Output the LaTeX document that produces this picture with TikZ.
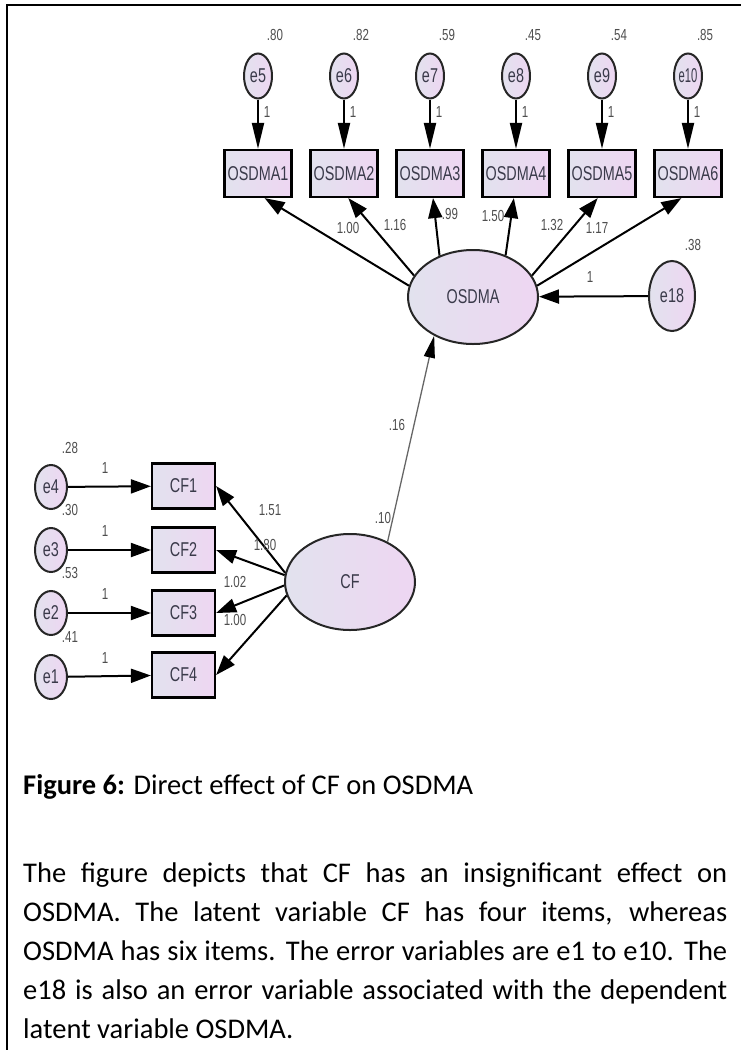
\documentclass[tikz,border=0pt]{standalone}
\usepackage{fontspec}
\usepackage{graphicx}
\setmainfont{Carlito}
\newfontfamily\semfont[FakeStretch=0.72]{Liberation Sans}
\usetikzlibrary{shapes.geometric,arrows.meta}
\definecolor{semleft}{RGB}{226,226,238}
\definecolor{semright}{RGB}{238,214,242}
\definecolor{semtext}{RGB}{58,58,74}
\definecolor{numgray}{RGB}{78,78,78}

\begin{document}
\begin{tikzpicture}[x=1pt,y=-1pt,
    obs/.style={draw,line width=2.2pt,rectangle,minimum width=67pt,minimum height=47pt,inner sep=0pt,
        left color=semleft,right color=semright,text=semtext,font=\semfont\fontsize{20}{20}\selectfont},
    lat/.style={draw=black!85,line width=2pt,ellipse,inner sep=0pt,
        left color=semleft,right color=semright,text=semtext,font=\semfont\fontsize{20}{20}\selectfont},
    err/.style={lat,minimum width=28pt,minimum height=45pt},
    num/.style={inner sep=1pt,text=numgray,font=\semfont\fontsize{16}{16}\selectfont},
    load/.style={line width=2pt,-{Triangle[length=20pt,width=14pt]}},
    fix/.style={line width=2pt,-{Triangle[length=26pt,width=12pt]}},
    reg/.style={line width=1.3pt,draw=black!60,-{Triangle[length=22pt,width=11pt,color=black]}},
    txt/.style={anchor=base west,inner sep=0pt,font=\fontsize{28.5}{39}\selectfont}]
    \useasboundingbox (0,0) rectangle (741,1050);
    \draw[line width=2pt] (741,5) -- (7,5) -- (7,1050);

    % OSDMA items and their errors
    \node[err] (e5) at (258,76) {e5};
    \node[err] (e6) at (344,76) {e6};
    \node[err] (e7) at (430,76) {e7};
    \node[err] (e8) at (516,76) {e8};
    \node[err] (e9) at (602,76) {e9};
    \node[err] (e10) at (688,76) {\scalebox{0.78}[1]{e10}};
    \node[num] (v5) at (275,35) {.80};
    \node[num] (v6) at (361,35) {.82};
    \node[num] (v7) at (447,35) {.59};
    \node[num] (v8) at (533,35) {.45};
    \node[num] (v9) at (619,35) {.54};
    \node[num] (v10) at (705,35) {.85};
    \node[obs] (osdma1) at (258,173.5) {OSDMA1};
    \node[obs] (osdma2) at (344,173.5) {OSDMA2};
    \node[obs] (osdma3) at (430,173.5) {OSDMA3};
    \node[obs] (osdma4) at (516,173.5) {OSDMA4};
    \node[obs] (osdma5) at (602,173.5) {OSDMA5};
    \node[obs] (osdma6) at (688,173.5) {OSDMA6};
    \draw[fix] (e5) -- (osdma1);
    \draw[fix] (e6) -- (osdma2);
    \draw[fix] (e7) -- (osdma3);
    \draw[fix] (e8) -- (osdma4);
    \draw[fix] (e9) -- (osdma5);
    \draw[fix] (e10) -- (osdma6);
    \node[num] (f5) at (267,112) {1};
    \node[num] (f6) at (353,112) {1};
    \node[num] (f7) at (439,112) {1};
    \node[num] (f8) at (525,112) {1};
    \node[num] (f9) at (611,112) {1};
    \node[num] (f10) at (697,112) {1};

    % latent OSDMA
    \node[lat,minimum width=130pt,minimum height=94pt] (osdma) at (473,297) {OSDMA};
    \node[err,minimum width=46pt,minimum height=70pt] (e18) at (672,296) {e18};
    \node[num] (v18) at (693,245) {.38};
    \draw[load] (e18) -- (osdma);
    \node[num] (f18) at (590,277) {1};
    \draw[load] (osdma.170) -- (osdma1.-75);
    \draw[load] (osdma.160) -- (osdma2.-80);
    \draw[load] (osdma.129) -- (osdma3.-83);
    \draw[load] (osdma.52) -- (osdma4.-95);
    \draw[load] (osdma.20) -- (osdma5.-100);
    \draw[load] (osdma.10) -- (osdma6.-105);
    \node[num] (w1) at (348,228) {1.00};
    \node[num] (w2) at (395,225) {1.16};
    \node[num] (w3) at (450,214) {.99};
    \node[num] (w4) at (493,216) {1.50};
    \node[num] (w5) at (552,225) {1.32};
    \node[num] (w6) at (597,228) {1.17};

    % latent CF
    \node[lat,minimum width=130pt,minimum height=96pt] (cf) at (350,582) {CF};
    \node[num] (vcf) at (383,518) {.10};
    \draw[reg] (cf.47) -- (osdma.225);
    \node[num] (b1) at (397,425) {.16};
    \node[obs,minimum width=63pt,minimum height=45pt] (cf1) at (183.5,486) {CF1};
    \node[obs,minimum width=63pt,minimum height=45pt] (cf2) at (183.5,550) {CF2};
    \node[obs,minimum width=63pt,minimum height=45pt] (cf3) at (183.5,613) {CF3};
    \node[obs,minimum width=63pt,minimum height=45pt] (cf4) at (183.5,675) {CF4};
    \draw[load] (cf.172) -- (cf1.east);
    \draw[load] (cf.174) -- (cf2.east);
    \draw[load] (cf.183) -- (cf3.east);
    \draw[load] (cf.192) -- (cf4.east);
    \node[num] (l1) at (270,510) {1.51};
    \node[num] (l2) at (265,545) {1.80};
    \node[num] (l3) at (235,582) {1.02};
    \node[num] (l4) at (235,620) {1.00};
    \node[err,minimum width=32pt,minimum height=44pt] (e4) at (51,487) {e4};
    \node[err,minimum width=32pt,minimum height=44pt] (e3) at (51,550) {e3};
    \node[err,minimum width=32pt,minimum height=44pt] (e2) at (51,613) {e2};
    \node[err,minimum width=32pt,minimum height=44pt] (e1) at (51,677) {e1};
    \draw[load] (e4) -- (cf1);
    \draw[load] (e3) -- (cf2);
    \draw[load] (e2) -- (cf3);
    \draw[load] (e1) -- (cf4);
    \node[num] (v4) at (70,448) {.28};
    \node[num] (v3) at (70,510) {.30};
    \node[num] (v2) at (70,573) {.53};
    \node[num] (v1) at (70,637) {.41};
    \node[num] (g4) at (105,468) {1};
    \node[num] (g3) at (105,531) {1};
    \node[num] (g2) at (105,594) {1};
    \node[num] (g1) at (105,658) {1};

    % caption and text
    \node[txt] (cap) at (23,794) {\textbf{Figure 6:} Direct effect of CF on OSDMA};
    \node[txt] (p1) at (23,882) {\makebox[704pt][s]{The figure depicts that CF has an insignificant effect on}};
    \node[txt] (p2) at (23,921) {\makebox[704pt][s]{OSDMA. The latent variable CF has four items, whereas}};
    \node[txt] (p3) at (23,960) {\makebox[704pt][s]{OSDMA has six items. The error variables are e1 to e10. The}};
    \node[txt] (p4) at (23,999) {\makebox[704pt][s]{e18 is also an error variable associated with the dependent}};
    \node[txt] (p5) at (23,1038) {latent variable OSDMA.};
\end{tikzpicture}
\end{document}
